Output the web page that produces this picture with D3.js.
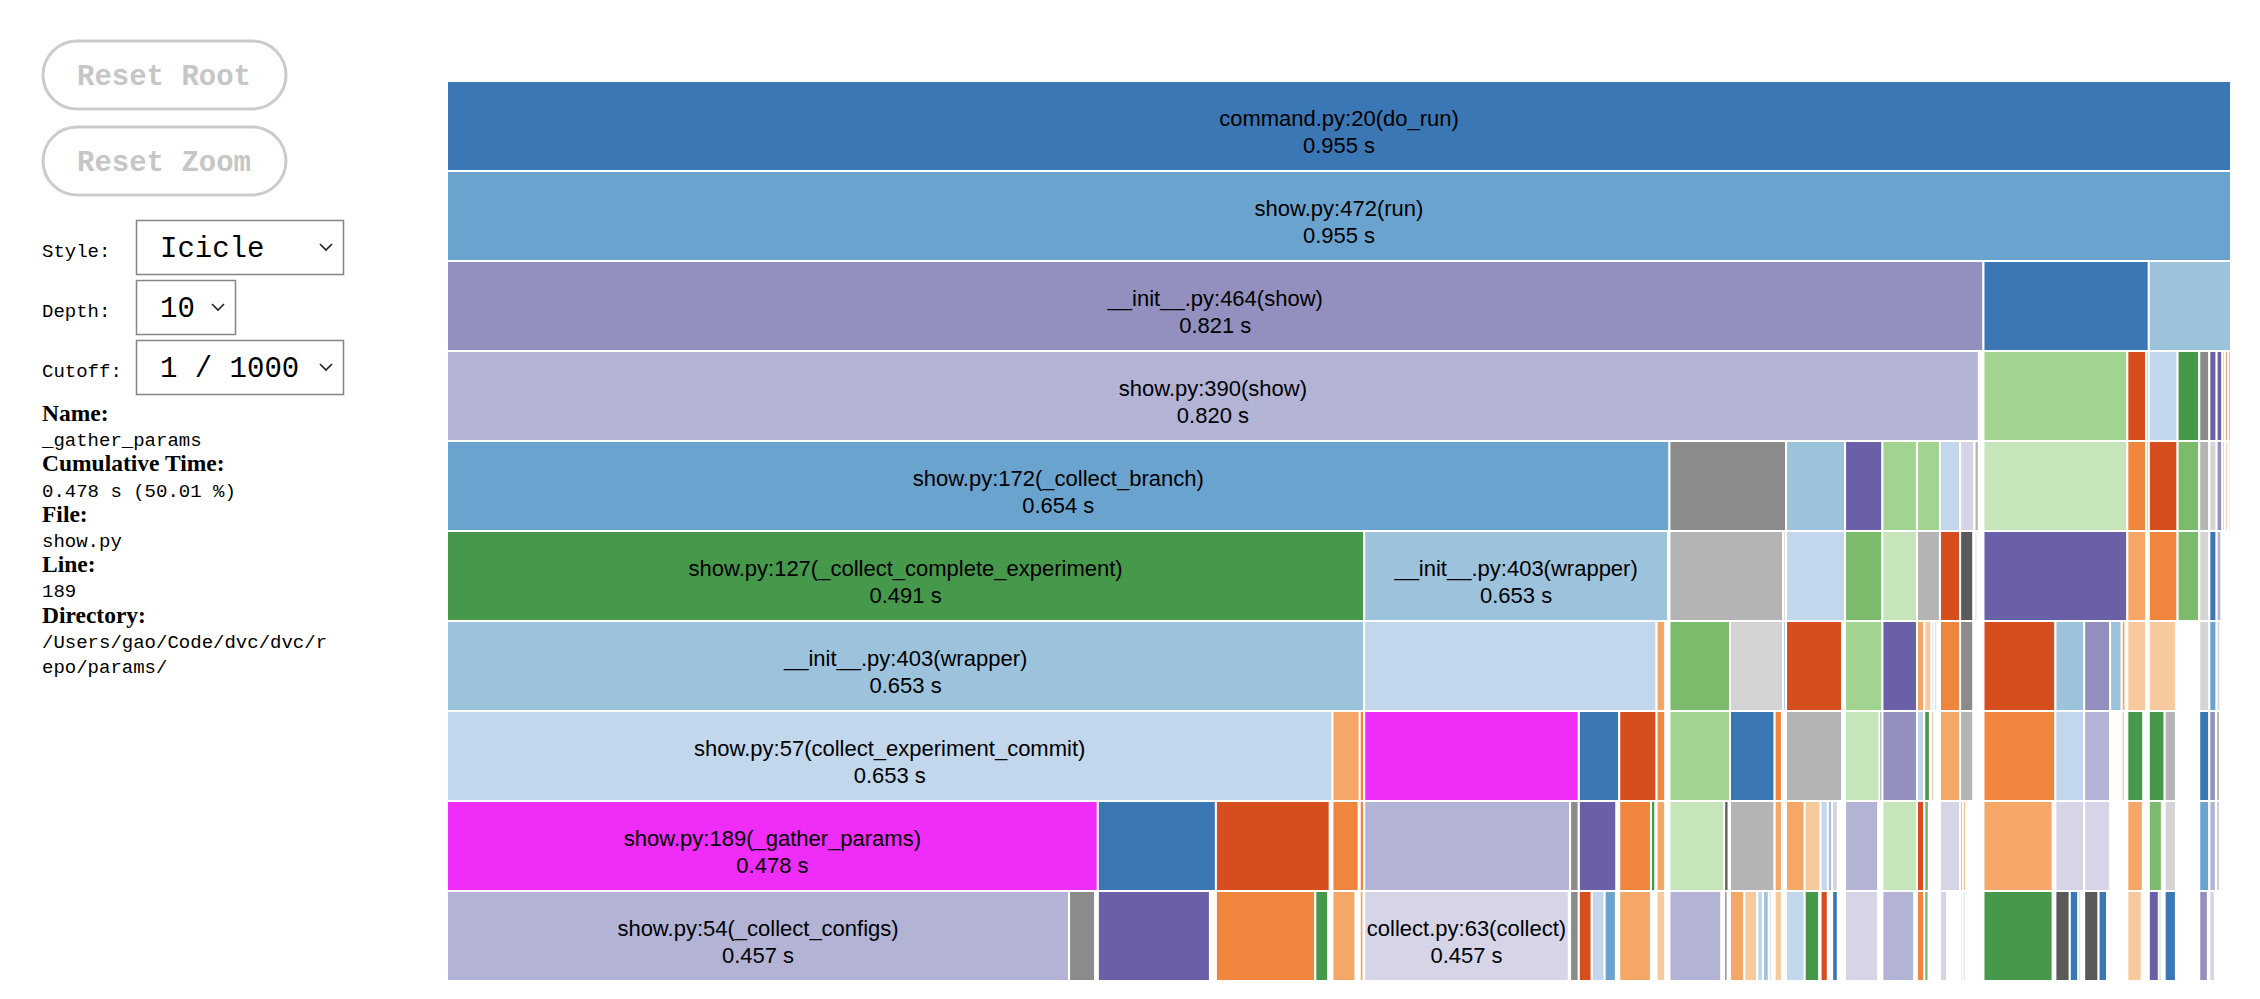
<!DOCTYPE html>
<html>
<head>
<meta charset="utf-8">
<script src="https://cdn.jsdelivr.net/npm/d3@7"></script>
<style>
  html, body { margin: 0; padding: 0; background: #fff; }
  svg { display: block; }
</style>
</head>
<body>
<div id="chart"></div>
<script>
"use strict";

//
// Call tree, one array per depth.
// [parent index in the row above, time (ms), colour slot, label, cumulative s]
//
var row0 = [[null, 955, 0, "command.py:20(do_run)", 0.955]];
var row1 = [[0, 955, 1, "show.py:472(run)", 0.955]];
var row2 = [
	[0, 822.5, 13, "__init__.py:464(show)", 0.821], [0, 88.5, 0], [0, 44, 2]
];
var row3 = [
	[0, 820, 14, "show.py:390(show)", 0.820],
	[1, 77, 10], [1, 10, 4], [1, 1.5, 2],
	[2, 15.4, 3], [2, 11.6, 8], [2, 5.4, 17], [2, 3.9, 12], [2, 3.1, 12],
	[2, 1.5, 10], [2, 1.5, 5], [2, 1.5, 2]
];
var row4 = [
	[0, 654.4, 1, "show.py:172(_collect_branch)", 0.654],
	[0, 62.4, 17], [0, 31.6, 2], [0, 20, 12], [0, 18.5, 10], [0, 12.3, 10],
	[0, 10.8, 3], [0, 7.7, 15], [0, 2.3, 18],
	[1, 77, 11], [2, 10, 5], [3, 1.5, 2], [4, 15.4, 4], [5, 11.6, 9],
	[6, 5.4, 18], [7, 3.9, 19], [8, 3.1, 13], [9, 1.2, 9], [10, 1.2, 5], [11, 1.2, 2]
];
var row5 = [
	[0, 491, 8, "show.py:127(_collect_complete_experiment)", 0.491],
	[0, 162.6, 2, "__init__.py:403(wrapper)", 0.653],
	[1, 60.9, 18], [1, 1.5, 19], [2, 31.6, 3], [3, 20, 9], [4, 18.5, 11],
	[5, 12.3, 18], [6, 10.8, 4], [7, 7, 16], [8, 1.5, 19], [9, 77, 12],
	[10, 10, 6], [11, 1, 2], [12, 15.4, 5], [13, 11.6, 9], [14, 5.4, 19],
	[15, 3.9, 0], [16, 2.5, 14], [17, 1, 6], [18, 1, 7], [19, 1, 3]
];
var row6 = [
	[0, 491, 2, "__init__.py:403(wrapper)", 0.653],
	[1, 156.5, 3], [1, 4.6, 6], [2, 32.4, 9], [2, 28.5, 19], [3, 1.2, 0],
	[4, 30, 4], [5, 20, 10], [6, 18.5, 12],
	[7, 3.9, 6], [7, 3.9, 7], [7, 1.5, 3], [7, 1.5, 3],
	[8, 10.8, 5], [9, 7, 17], [10, 1, 2],
	[11, 38.5, 4], [11, 15.4, 2], [11, 13.9, 13], [11, 6.2, 2], [11, 2, 6],
	[12, 10, 7], [14, 14.5, 7], [16, 5.4, 19], [17, 3.9, 1], [18, 2, 15],
	[19, 0.8, 7], [20, 0.8, 7], [21, 0.8, 3]
];
var row7 = [
	[0, 474, 3, "show.py:57(collect_experiment_commit)", 0.653],
	[0, 14.6, 6], [0, 2.4, 5],
	[1, 114.9, 12, "show.py:189(_gather_params)", 0.478], [1, 21.6, 0], [1, 20, 4],
	[2, 4.6, 5], [3, 32.4, 10], [4, 23.9, 0], [4, 3.9, 5], [5, 1, 2],
	[6, 30, 18], [7, 18.5, 11], [7, 1.5, 16], [8, 18.5, 13], [9, 3.9, 3],
	[10, 3, 8], [11, 1.2, 4], [12, 1, 2], [13, 10.8, 6], [14, 7, 18],
	[15, 0.8, 2], [16, 38.5, 5], [17, 15.4, 3], [18, 13.9, 14],
	[19, 1, 3], [19, 1, 9], [20, 1.5, 6], [21, 8.5, 8],
	[22, 8.5, 8], [22, 6, 18], [23, 5.4, 0], [24, 3.5, 13], [25, 1.5, 16],
	[26, 0.6, 10], [27, 0.6, 10], [28, 0.6, 7]
];
var row8 = [
	[0, 348.4, 12, "show.py:189(_gather_params)", 0.478], [0, 63.2, 0], [0, 60.9, 4],
	[1, 14, 5], [2, 2.4, 5],
	[3, 110.2, 14, "show.py:54(_collect_configs)", 0.457], [3, 4.6, 17],
	[4, 20, 12], [5, 17, 5], [5, 2.3, 8], [6, 4.6, 6],
	[7, 29.3, 11], [7, 2.3, 16], [8, 23.9, 18], [9, 3.9, 6],
	[11, 10, 6], [11, 8.5, 7], [11, 3.9, 3], [11, 2.3, 2], [11, 3, 19],
	[12, 17.7, 14], [13, 1, 17], [14, 18.5, 11], [15, 3.9, 4], [16, 2.5, 9],
	[17, 1, 5], [19, 10.8, 15], [20, 1.5, 6], [20, 1.5, 6], [22, 37, 6],
	[23, 15.4, 15], [24, 13.9, 15], [25, 1, 4], [27, 0.8, 8], [28, 8.3, 6],
	[29, 7, 9], [30, 6, 19], [31, 5.4, 1], [32, 3.5, 14], [33, 1.5, 17],
	[34, 0.6, 10], [36, 0.6, 7]
];
var row9 = [
	[0, 333, 14, "show.py:54(_collect_configs)", 0.457], [0, 13.9, 17],
	[1, 60, 12], [2, 53.2, 5], [2, 6.9, 8], [3, 12.3, 6], [4, 2, 6],
	[5, 109.5, 15, "collect.py:63(collect)", 0.457], [6, 4.6, 17],
	[7, 6.9, 4], [7, 6.9, 3], [7, 6, 1], [8, 17, 6], [9, 1, 11], [10, 4.6, 7],
	[11, 27.7, 14], [12, 1.8, 17],
	[13, 7.7, 6], [13, 6.9, 7], [13, 3.1, 3], [13, 3.1, 2], [13, 1.5, 19],
	[14, 3.9, 7], [15, 10, 3], [16, 7.7, 8], [17, 3.9, 4], [18, 1, 11],
	[19, 3, 0], [20, 17.7, 15], [21, 1, 18], [22, 17, 14], [23, 3.9, 5],
	[24, 2.3, 9], [25, 1, 15], [26, 3.9, 15], [26, 1, 17], [26, 1, 19],
	[27, 1.2, 3], [28, 1.2, 8], [29, 37, 8],
	[30, 7.7, 16], [30, 4.6, 0], [30, 1.5, 19],
	[31, 7.7, 16], [31, 4.6, 0], [31, 1, 19],
	[32, 1, 5], [33, 0.8, 10], [34, 7.7, 7], [35, 5.4, 12], [35, 1.2, 16],
	[36, 6, 0], [37, 4.6, 13], [38, 3, 15], [39, 1, 18], [41, 0.6, 7]
];
var rows = [row0, row1, row2, row3, row4, row5, row6, row7, row8, row9];

// sidebar
var buttonLabels = ["Reset Root", "Reset Zoom"];
var controlLabels = ["Style:", "Depth:", "Cutoff:"];
var controlValues = ["Icicle", "10", "1 / 1000"];
var infoLabels = ["Name:", "Cumulative Time:", "File:", "Line:", "Directory:"];
var infoValues = [["_gather_params"], ["0.478 s (50.01 %)"], ["show.py"], ["189"],
	["/Users/gao/Code/dvc/dvc/r", "epo/params/"]];

var hovered = "show.py:189(_gather_params)";

// colours
var palette = [
	"#3a77b4", "#6ba3cf", "#9dc3dc", "#c2d7ec",
	"#d64e1d", "#f0853d", "#f4a766", "#f7ca9d",
	"#46984a", "#7bbb6b", "#a1d391", "#c6e5bb",
	"#6a60a8", "#938fbf", "#b3b3d6", "#d5d5e7",
	"#5a5a5a", "#8b8b8b", "#b4b4b4", "#d4d4d4"
];
var highlight = "#f02cf8";
var color = d3.scaleOrdinal(d3.range(palette.length), palette);

var mono = "'Courier New', 'Liberation Mono', monospace";
var serif = "'Times New Roman', 'Liberation Serif', serif";
var sans = "Arial, 'Liberation Sans', Helvetica, sans-serif";

//
// Setup Variables
//
var canvasWidth = 2260;
var canvasHeight = 999;
var margin = {left: 447, top: 81};
var width = 1784;
var height = 900;

//
// Build the tree
//
var nodes = rows.map(function(row) {
	return row.map(function(r) {
		return {parent: r[0], ms: r[1], fn: r[2], name: r[3] || null, secs: r[4], children: []};
	});
});
nodes.forEach(function(row, depth) {
	if (depth === 0) return;
	row.forEach(function(n) { nodes[depth - 1][n.parent].children.push(n); });
});

var root = d3.hierarchy(nodes[0][0])
	.sum(function(d) { return Math.max(0, d.ms - d3.sum(d.children, function(c) { return c.ms; })); });

d3.partition().size([width, height])(root);

//
// Draw Canvas
//
var svg = d3.select("#chart")
	.append("svg")
		.attr("width", canvasWidth)
		.attr("height", canvasHeight);

//
// Sidebar
//
var side = svg.append("g").attr("id", "sidebar");

buttonLabels.forEach(function(b, i) {
	var y = 41 + i * 86;
	side.append("rect")
		.attr("x", 43).attr("y", y)
		.attr("width", 243).attr("height", 68)
		.attr("rx", 34)
		.attr("fill", "#fff")
		.attr("stroke", "#cbcbcb")
		.attr("stroke-width", 3);
	side.append("text")
		.attr("x", 164).attr("y", y + 44)
		.attr("text-anchor", "middle")
		.attr("font-family", mono)
		.attr("font-size", 29)
		.attr("font-weight", "bold")
		.attr("fill", "#c6c6c6")
		.text(b);
});

var boxWidths = [207, 99, 207];
controlLabels.forEach(function(l, i) {
	var y = 220 + i * 60;
	side.append("text")
		.attr("x", 42).attr("y", y + 37)
		.attr("font-family", mono)
		.attr("font-size", 19)
		.attr("fill", "#000")
		.text(l);
	side.append("rect")
		.attr("x", 136.5).attr("y", y + 0.5)
		.attr("width", boxWidths[i]).attr("height", 54)
		.attr("fill", "#fff")
		.attr("stroke", "#858585")
		.attr("stroke-width", 1.5);
	side.append("text")
		.attr("x", 160).attr("y", y + 37)
		.attr("font-family", mono)
		.attr("font-size", 29)
		.attr("fill", "#000")
		.text(controlValues[i]);
	var cx = 136 + boxWidths[i] - 17;
	side.append("path")
		.attr("d", "M" + (cx - 6) + "," + (y + 24) + "L" + cx + "," + (y + 30) + "L" + (cx + 6) + "," + (y + 24))
		.attr("fill", "none")
		.attr("stroke", "#222")
		.attr("stroke-width", 1.6);
});

var lineY = 421;
infoLabels.forEach(function(l, i) {
	side.append("text")
		.attr("x", 42).attr("y", lineY)
		.attr("font-family", serif)
		.attr("font-size", 23.5)
		.attr("font-weight", "bold")
		.attr("fill", "#000")
		.text(l);
	lineY += 25.2;
	infoValues[i].forEach(function(v) {
		side.append("text")
			.attr("x", 42).attr("y", lineY)
			.attr("font-family", mono)
			.attr("font-size", 19)
			.attr("fill", "#000")
			.text(v);
		lineY += 25.2;
	});
});

//
// Draw Icicle
//
var chart = svg.append("g")
	.attr("id", "icicle")
	.attr("transform", "translate(" + margin.left + "," + margin.top + ")");

var cells = chart.selectAll(".cell")
	.data(root.descendants())
	.enter().append("g")
		.attr("class", "cell")
		.attr("transform", function(d) { return "translate(" + d.x0 + "," + d.y0 + ")"; });

cells.append("rect")
	.attr("width", function(d) { return d.x1 - d.x0; })
	.attr("height", function(d) { return d.y1 - d.y0; })
	.attr("fill", function(d) { return d.data.name === hovered ? highlight : color(d.data.fn); })
	.attr("stroke", "#fff")
	.attr("stroke-width", 2);

var fmt = d3.format(".3f");
cells.filter(function(d) { return d.data.name; }).each(function(d) {
	var w = d.x1 - d.x0;
	var h = d.y1 - d.y0;
	var t = d3.select(this).append("text")
		.attr("text-anchor", "middle")
		.attr("font-family", sans)
		.attr("font-size", 22)
		.attr("fill", "#000");
	t.append("tspan").attr("x", w / 2).attr("y", h / 2).text(d.data.name);
	t.append("tspan").attr("x", w / 2).attr("y", h / 2 + 27).text(fmt(d.data.secs) + " s");
	if (t.node().getBBox().width > w) t.remove();
});
</script>
</body>
</html>
